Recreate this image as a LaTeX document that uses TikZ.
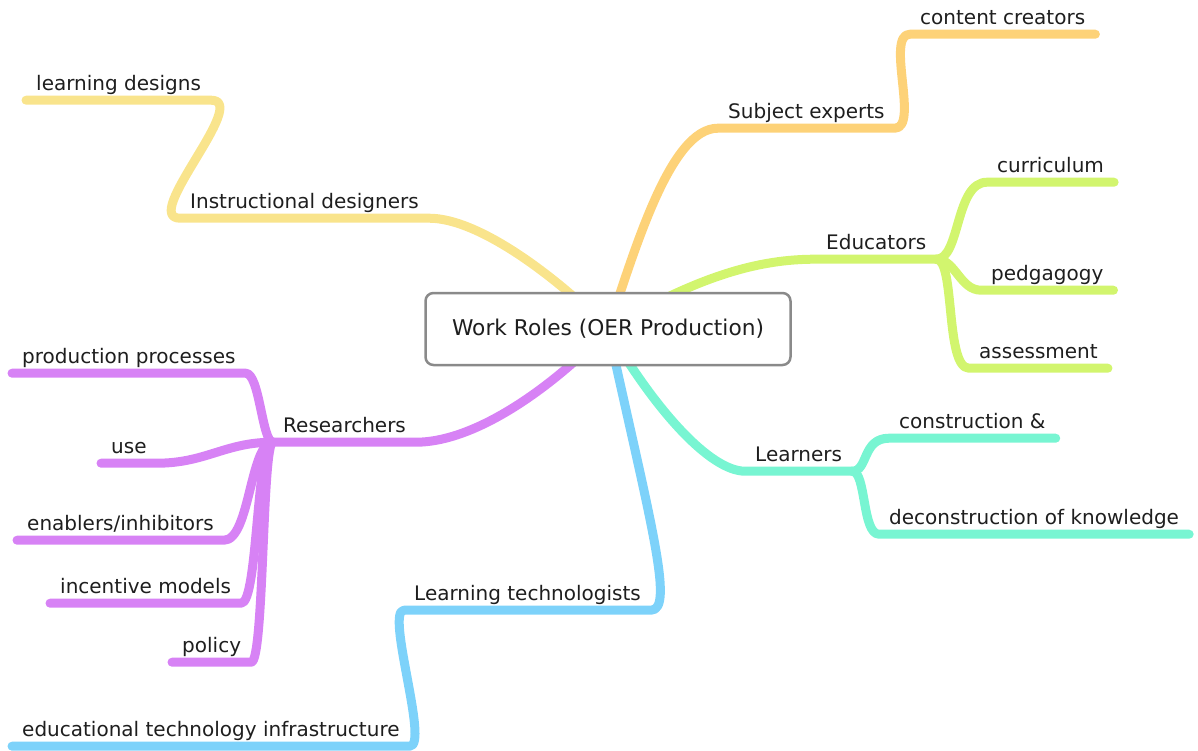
\documentclass[tikz,border=0pt]{standalone}
\usepackage{fontspec}
\setmainfont{DejaVu Sans}
\usepackage{tikz}
\usetikzlibrary{calc}
\definecolor{MyYellow}{RGB}{249,228,140}
\definecolor{MyOrange}{RGB}{253,210,120}
\definecolor{MyGreen}{RGB}{210,245,110}
\definecolor{MyTeal}{RGB}{120,245,210}
\definecolor{MyBlue}{RGB}{125,210,250}
\definecolor{MyPurple}{RGB}{215,130,245}
\definecolor{MyGray}{RGB}{138,138,138}
\definecolor{MyText}{RGB}{30,30,30}
\tikzstyle{branch} = [line width=9pt, line cap=round, line join=round]
\tikzstyle{topic} = [anchor=base west, inner xsep=10pt, inner ysep=10pt, text depth=0pt, font=\fontsize{20}{24}\selectfont, text=MyText]
\tikzstyle{main} = [rectangle, rounded corners=8pt, draw=MyGray, line width=2.5pt, fill=white, minimum width=365pt, minimum height=72pt, font=\fontsize{21.7}{26}\selectfont, text=MyText]
\pgfdeclarelayer{bg}
\pgfsetlayers{bg,main}

\begin{document}
\begin{tikzpicture}[x=1pt, y=-1pt]
	\useasboundingbox (0,0) rectangle (1198,750);
	% CENTRE
	\node (root) [main] at (608,329) {Work Roles (OER Production)};

	\node (ID) [topic] at (180,208) {Instructional designers};
	\node (LD) [topic] at (26,90) {learning designs};

	\node (SE) [topic] at (718,118) {Subject experts};
	\node (CC) [topic] at (910,24) {content creators};

	\node (E) [topic] at (816,249) {Educators};
	\node (Cu) [topic] at (987,172) {curriculum};
	\node (Pe) [topic] at (981,280) {pedgagogy};
	\node (As) [topic] at (969,358) {assessment};

	\node (L) [topic] at (745,461) {Learners};
	\node (Co) [topic] at (889,428) {construction \&};
	\node (De) [topic] at (879,524) {deconstruction of knowledge};

	\node (LT) [topic] at (404,600) {Learning technologists};
	\node (ET) [topic] at (12,736) {educational technology infrastructure};

	\node (R) [topic] at (273,432) {Researchers};
	\node (PP) [topic] at (12,363) {production processes};
	\node (U) [topic] at (101,453) {use};
	\node (EI) [topic] at (17,530) {enablers/inhibitors};
	\node (IM) [topic] at (50,593) {incentive models};
	\node (Po) [topic] at (172,652) {policy};

	\begin{pgfonlayer}{bg}
	\draw [branch, draw=MyYellow] (root.center) .. controls (560,280) and (480,218) .. (ID.south east) -- (ID.south west) .. controls +(-40,0) and +(40,0) .. (LD.south east) -- (LD.south west);
	\draw [branch, draw=MyOrange] (root.center) .. controls (635,250) and (670,128) .. (SE.south west) -- (SE.south east) .. controls +(25,0) and +(-25,0) .. (CC.south west) -- (CC.south east);
%
	\draw [branch, draw=MyGreen] (root.center) .. controls (700,275) and (760,259) .. (E.south west) -- (E.south east);
	\draw [branch, draw=MyGreen] (E.south east) .. controls +(24,0) and +(-32,0) .. (Cu.south west) -- (Cu.south east);
	\draw [branch, draw=MyGreen] (E.south east) .. controls +(19,0) and +(-21,0) .. (Pe.south west) -- (Pe.south east);
	\draw [branch, draw=MyGreen] (E.south east) .. controls +(19,0) and +(-24,0) .. (As.south west) -- (As.south east);
%
	\draw [branch, draw=MyTeal] (root.center) .. controls (655,410) and (710,471) .. (L.south west) -- (L.south east);
	\draw [branch, draw=MyTeal] (L.south east) .. controls +(16,0) and +(-27,0) .. (Co.south west) -- (Co.south east);
	\draw [branch, draw=MyTeal] (L.south east) .. controls +(14,0) and +(-17,0) .. (De.south west) -- (De.south east);
%
	\draw [branch, draw=MyBlue] (root.center) .. controls (650,520) and (675,610) .. (LT.south east) -- (LT.south west) .. controls +(-19,0) and +(20,0) .. (ET.south east) -- (ET.south west);
%
	\draw [branch, draw=MyPurple] (root.center) .. controls (560,380) and (480,442) .. (R.south east) -- (R.south west);
	\draw [branch, draw=MyPurple] (R.south west) .. controls +(-11,0) and +(14,0) .. (PP.south east) -- (PP.south west);
	\draw [branch, draw=MyPurple] (R.south west) .. controls +(-48,0) and +(49,0) .. (U.south east) -- (U.south west);
	\draw [branch, draw=MyPurple] (R.south west) .. controls +(-23,0) and +(26,0) .. (EI.south east) -- (EI.south west);
	\draw [branch, draw=MyPurple] (R.south west) .. controls +(-17,0) and +(17,0) .. (IM.south east) -- (IM.south west);
	\draw [branch, draw=MyPurple] (R.south west) .. controls +(-11,0) and +(13,0) .. (Po.south east) -- (Po.south west);
	\end{pgfonlayer}
\end{tikzpicture}
\end{document}
